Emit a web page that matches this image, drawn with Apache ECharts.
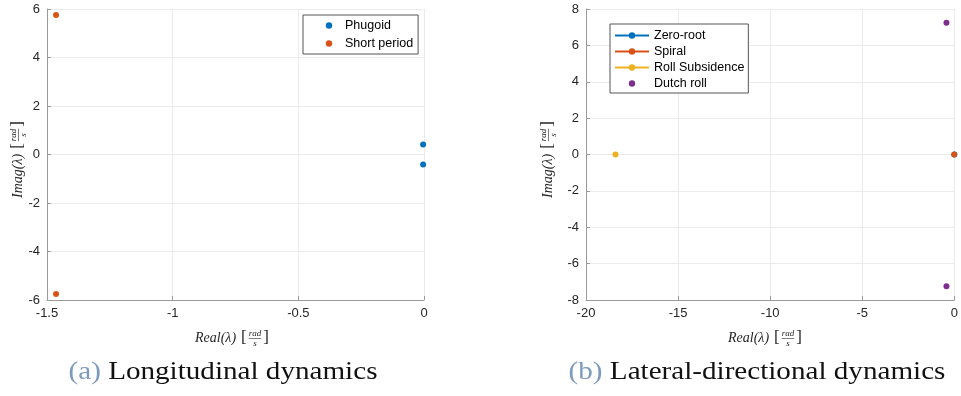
<!DOCTYPE html>
<html>
<head>
<meta charset="utf-8">
<script src="https://cdn.jsdelivr.net/npm/echarts@6/dist/echarts.min.js"></script>
<style>
  html, body { margin: 0; padding: 0; background: #fff; }
  #chart { width: 961px; height: 396px; }
</style>
</head>
<body>
<div id="chart"></div>
<script>
// Longitudinal eigenvalues (real, imaginary parts)
const phugoidRe = [-0.0035, -0.0035];
const phugoidIm = [0.41, -0.41];
const shortPeriodRe = [-1.464, -1.464];
const shortPeriodIm = [5.75, -5.75];

// Lateral-directional eigenvalues
const zeroRootRe = [0];
const zeroRootIm = [0];
const spiralRe = [-0.01];
const spiralIm = [0];
const rollRe = [-18.4];
const rollIm = [0];
const dutchRe = [-0.43, -0.43];
const dutchIm = [7.25, -7.25];

// Axis ranges and tick spacing
const longX = { min: -1.5, max: 0, interval: 0.5 };
const longY = { min: -6, max: 6, interval: 2 };
const latX = { min: -20, max: 0, interval: 5 };
const latY = { min: -8, max: 8, interval: 2 };

const legendLong = ['Phugoid', 'Short period'];
const legendLat = ['Zero-root', 'Spiral', 'Roll Subsidence', 'Dutch roll'];
const captions = [['(a)', 'Longitudinal dynamics'], ['(b)', 'Lateral-directional dynamics']];

const C1 = '#0072BD', C2 = '#D95319', C3 = '#EDB120', C4 = '#7E2F8E';
const SANS = '"Liberation Sans", Arial, sans-serif';
const SERIF = '"Liberation Serif", "DejaVu Serif", serif';
const TXT = '#262626';

const zip = (re, im) => re.map((r, i) => [r, im[i]]);

const ctx = document.createElement('canvas').getContext('2d');
function textW(s, font) { ctx.font = font; return ctx.measureText(s).width; }

// LaTeX-like axis title:  name [rad / s]
function mathLabel(name, x, y, rotation) {
  const fMain = 'italic 14px ' + SERIF;
  const fBr = '17px ' + SERIF;
  const fSmall = 'italic 9px ' + SERIF;
  const w1 = textW(name, fMain);
  const wb = textW('[', fBr);
  const wr = textW('rad', fSmall);
  const x0 = w1 + 5;
  const xf = x0 + wb + 2;
  const xc = xf + wr + 2;
  return {
    type: 'group', x: x, y: y, rotation: rotation || 0, silent: true,
    children: [
      { type: 'text', x: 0, y: 0, style: { text: name, font: fMain, fill: TXT, textAlign: 'left', textVerticalAlign: 'middle' } },
      { type: 'text', x: x0, y: 0, style: { text: '[', font: fBr, fill: TXT, textAlign: 'left', textVerticalAlign: 'middle' } },
      { type: 'text', x: xf + wr / 2, y: -4.5, style: { text: 'rad', font: fSmall, fill: TXT, textAlign: 'center', textVerticalAlign: 'middle' } },
      { type: 'line', shape: { x1: xf, y1: 0.5, x2: xf + wr, y2: 0.5 }, style: { stroke: TXT, lineWidth: 0.6 } },
      { type: 'text', x: xf + wr / 2, y: 5.5, style: { text: 's', font: fSmall, fill: TXT, textAlign: 'center', textVerticalAlign: 'middle' } },
      { type: 'text', x: xc, y: 0, style: { text: ']', font: fBr, fill: TXT, textAlign: 'left', textVerticalAlign: 'middle' } }
    ]
  };
}

// Sub-figure caption, widened slightly to the proportions of a TeX serif face
function caption(pair, cx, cy) {
  const f = '26px ' + SERIF;
  const wa = textW(pair[0] + ' ', f);
  const wt = textW(pair[1], f);
  const x0 = -(wa + wt) / 2;
  return {
    type: 'group', silent: true, x: cx, y: cy, scaleX: 1.12,
    children: [
      { type: 'text', x: x0, y: 0, style: { text: pair[0], font: f, fill: '#7d9bbd', textAlign: 'left', textVerticalAlign: 'middle' } },
      { type: 'text', x: x0 + wa, y: 0, style: { text: pair[1], font: f, fill: '#111', textAlign: 'left', textVerticalAlign: 'middle' } }
    ]
  };
}

function valueAxis(range, grid) {
  return {
    type: 'value', gridIndex: grid,
    min: range.min, max: range.max, interval: range.interval,
    axisLine: { show: true, onZero: false, lineStyle: { color: '#9a9a9a', width: 1 } },
    axisTick: { show: true, inside: true, length: 4, lineStyle: { color: '#9a9a9a' } },
    axisLabel: { color: TXT, fontSize: 13, fontFamily: SANS, margin: 7, showMinLabel: true, showMaxLabel: true },
    splitLine: { show: true, lineStyle: { color: '#ebebeb', width: 1 } }
  };
}

function pointSeries(name, data, color, xi, lineW) {
  return {
    type: 'line', name: name, data: data, xAxisIndex: xi, yAxisIndex: xi,
    symbol: 'circle', symbolSize: 6, showSymbol: true, showAllSymbol: true, clip: false,
    itemStyle: { color: color },
    lineStyle: lineW ? { color: color, width: lineW } : { color: color, width: 0, opacity: 0 },
    animation: false
  };
}

const chart = echarts.init(document.getElementById('chart'), null, { renderer: 'canvas' });

chart.setOption({
  animation: false,
  backgroundColor: '#fff',
  grid: [
    { left: 47, top: 9, width: 377, height: 291, containLabel: false },
    { left: 586, top: 9, width: 373, height: 291, containLabel: false }
  ],
  xAxis: [valueAxis(longX, 0), valueAxis(latX, 1)],
  yAxis: [valueAxis(longY, 0), valueAxis(latY, 1)],
  legend: [
    {
      data: legendLong, orient: 'vertical', left: 303, top: 15,
      backgroundColor: '#fff', borderColor: '#555', borderWidth: 1,
      padding: [3, 5, 3, 15], itemGap: 3, itemWidth: 22, itemHeight: 8, itemTextGap: 9,
      textStyle: { color: '#000', fontSize: 12.5, fontFamily: SANS, lineHeight: 15 }
    },
    {
      data: legendLat, orient: 'vertical', left: 610, top: 24,
      backgroundColor: '#fff', borderColor: '#555', borderWidth: 1,
      padding: [4, 4, 2, 4], itemGap: 1, itemWidth: 34, itemHeight: 8, itemTextGap: 2,
      textStyle: { color: '#000', fontSize: 12.5, fontFamily: SANS, lineHeight: 15 }
    }
  ],
  series: [
    pointSeries('Phugoid', zip(phugoidRe, phugoidIm), C1, 0, 0),
    pointSeries('Short period', zip(shortPeriodRe, shortPeriodIm), C2, 0, 0),
    pointSeries('Zero-root', zip(zeroRootRe, zeroRootIm), C1, 1, 1.5),
    pointSeries('Spiral', zip(spiralRe, spiralIm), C2, 1, 1.5),
    pointSeries('Roll Subsidence', zip(rollRe, rollIm), C3, 1, 1.5),
    pointSeries('Dutch roll', zip(dutchRe, dutchIm), C4, 1, 0)
  ],
  graphic: [
    mathLabel('Real(λ)', 195, 338),
    mathLabel('Real(λ)', 728, 338),
    mathLabel('Imag(λ)', 18, 198, Math.PI / 2),
    mathLabel('Imag(λ)', 548, 198, Math.PI / 2),
    caption(captions[0], 223, 372),
    caption(captions[1], 757, 372)
  ]
});
</script>
</body>
</html>
